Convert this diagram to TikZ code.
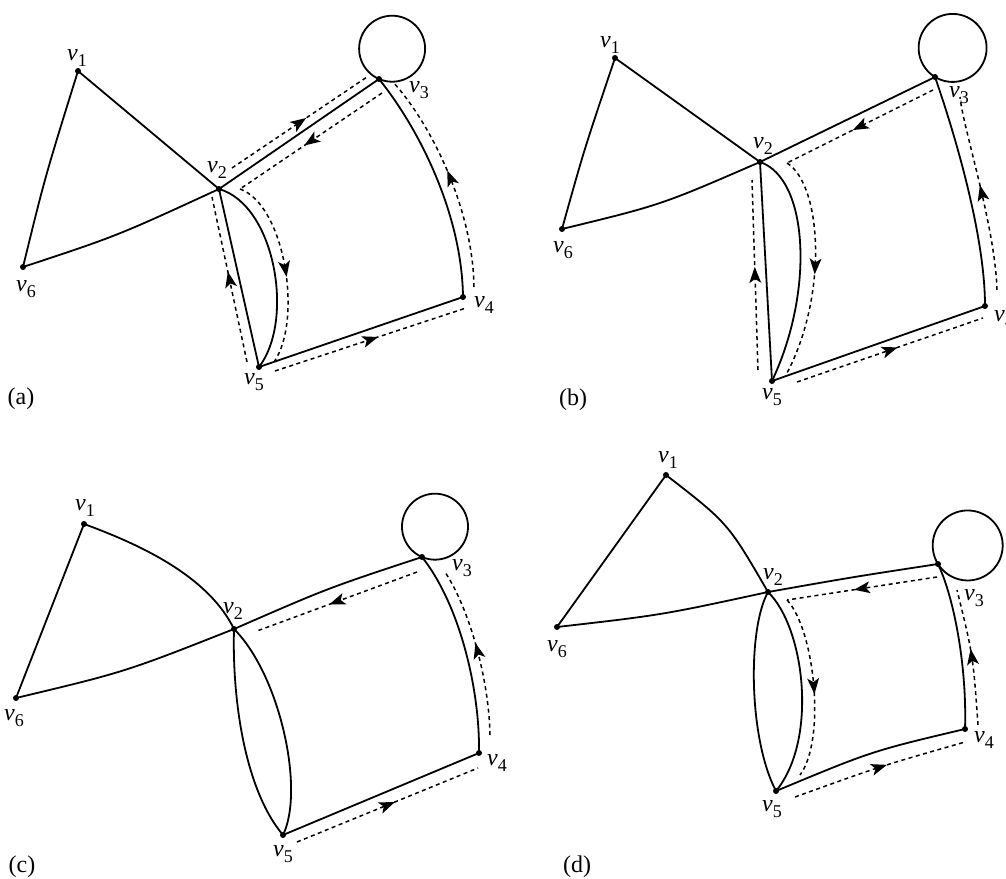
\documentclass[tikz,border=0pt]{standalone}
\usepackage{fontspec}
\setmainfont{Liberation Serif}
\usetikzlibrary{decorations.markings,arrows.meta}
\newcommand{\vlab}[1]{\textit{v}\kern0.3pt\raisebox{-0.5ex}{\fontsize{18}{18}\selectfont #1}}
\begin{document}
\begin{tikzpicture}[x=1pt,y=-1pt,
  vert/.style={circle,fill,inner sep=0pt,minimum size=6pt},
  edge/.style={line width=1.8pt},
  walk/.style={line width=1.5pt,dash pattern=on 4pt off 3.5pt},
  midarrow/.style={postaction={decorate},decoration={markings,mark=at position 0.5 with {\fill[solid] (-8pt,-6pt) -- (8pt,0pt) -- (-8pt,6pt) -- (-4pt,0pt) -- cycle;}}},
  lab/.style={font=\fontsize{24}{28}\selectfont,inner sep=0pt}
]
\useasboundingbox (0,0) rectangle (1006,878);

% ---------------- panel (a)
\node[vert] (a1) at (78,71) {};
\node[vert] (a2) at (219,189) {};
\node[vert] (a3) at (379,79) {};
\node[vert] (a4) at (463,297) {};
\node[vert] (a5) at (259,367) {};
\node[vert] (a6) at (23,267) {};
\draw[edge] (a3.center) arc[start angle=113.4,delta angle=360,radius=33];
\draw[edge] (a1.center) .. controls (45,177) .. (a6.center);
\draw[edge] (a1.center) -- (a2.center);
\draw[edge] (a6.center) .. controls (117,236) .. (a2.center);
\draw[edge] (a2.center) -- (a3.center);
\draw[edge] (a3.center) .. controls (420,130) and (462,215) .. (a4.center);
\draw[edge] (a4.center) -- (a5.center);
\draw[edge] (a2.center) -- (a5.center);
\draw[edge] (a2.center) .. controls (275,205) and (295,320) .. (a5.center);
\coordinate (wa1) at (232,168); \coordinate (wa2) at (367,77);
\coordinate (wa3) at (382,93);  \coordinate (wa4) at (240,189);
\coordinate (wa5) at (274,362);
\coordinate (wa6) at (247,362); \coordinate (wa7) at (212,197);
\coordinate (wa8) at (275,371); \coordinate (wa9) at (466,308);
\coordinate (wa10) at (474,287); \coordinate (wa11) at (393,82);
\draw[walk,midarrow] (wa1) -- (wa2);
\draw[walk,midarrow] (wa3) -- (wa4);
\draw[walk,midarrow] (wa4) .. controls (285,205) and (303,320) .. (wa5);
\draw[walk,midarrow] (wa6) -- (wa7);
\draw[walk,midarrow] (wa8) -- (wa9);
\draw[walk,midarrow] (wa10) .. controls (473,210) and (432,125) .. (wa11);
\node[lab] (la1) at (77,58) {\vlab{1}};
\node[lab] (la2) at (217,170) {\vlab{2}};
\node[lab] (la3) at (419,90) {\vlab{3}};
\node[lab] (la4) at (484,305) {\vlab{4}};
\node[lab] (la5) at (254,382) {\vlab{5}};
\node[lab] (la6) at (26,289) {\vlab{6}};
\node[lab] (ta) at (21,399) {(a)};

% ---------------- panel (b)
\node[vert] (b1) at (615,58) {};
\node[vert] (b2) at (760,162) {};
\node[vert] (b3) at (935,77) {};
\node[vert] (b4) at (985,306) {};
\node[vert] (b5) at (772,381) {};
\node[vert] (b6) at (562,229) {};
\draw[edge] (b3.center) arc[start angle=121.2,delta angle=360,radius=34];
\draw[edge] (b1.center) .. controls (584,150) .. (b6.center);
\draw[edge] (b1.center) -- (b2.center);
\draw[edge] (b6.center) .. controls (661,205) .. (b2.center);
\draw[edge] (b2.center) -- (b3.center);
\draw[edge] (b3.center) .. controls (950,120) and (985,230) .. (b4.center);
\draw[edge] (b4.center) -- (b5.center);
\draw[edge] (b2.center) -- (b5.center);
\draw[edge] (b2.center) .. controls (808,178) and (815,290) .. (b5.center);
\coordinate (wb1) at (933,90);  \coordinate (wb2) at (787,163);
\coordinate (wb3) at (787,373);
\coordinate (wb4) at (758,370); \coordinate (wb5) at (752,180);
\coordinate (wb6) at (797,382); \coordinate (wb7) at (983,318);
\coordinate (wb8) at (997,290); \coordinate (wb9) at (960,97);
\draw[walk,midarrow] (wb1) -- (wb2);
\draw[walk,midarrow] (wb2) .. controls (822,185) and (828,295) .. (wb3);
\draw[walk,midarrow] (wb4) -- (wb5);
\draw[walk,midarrow] (wb6) -- (wb7);
\draw[walk,midarrow] (wb8) .. controls (995,225) and (963,128) .. (wb9);
\node[lab] (lb1) at (610,45) {\vlab{1}};
\node[lab] (lb2) at (763,146) {\vlab{2}};
\node[lab] (lb3) at (959,95) {\vlab{3}};
\node[lab,anchor=west] (lb4) at (994,319) {\vlab{4}};
\node[lab] (lb5) at (772,397) {\vlab{5}};
\node[lab] (lb6) at (563,250) {\vlab{6}};
\node[lab] (tb) at (573,400) {(b)};

% ---------------- panel (c)
\node[vert] (c1) at (84,524) {};
\node[vert] (c2) at (234,629) {};
\node[vert] (c3) at (422,557) {};
\node[vert] (c4) at (479,753) {};
\node[vert] (c5) at (283,835) {};
\node[vert] (c6) at (16,698) {};
\draw[edge] (c3.center) arc[start angle=113.2,delta angle=360,radius=33];
\draw[edge] (c1.center) -- (c6.center);
\draw[edge] (c1.center) .. controls (150,548) and (210,580) .. (c2.center);
\draw[edge] (c6.center) .. controls (125,672) .. (c2.center);
\draw[edge] (c2.center) .. controls (328,588) .. (c3.center);
\draw[edge] (c3.center) .. controls (460,605) and (480,690) .. (c4.center);
\draw[edge] (c4.center) -- (c5.center);
\draw[edge] (c2.center) .. controls (232,700) and (245,790) .. (c5.center);
\draw[edge] (c2.center) .. controls (280,675) and (305,790) .. (c5.center);
\coordinate (wc1) at (417,572); \coordinate (wc2) at (257,631);
\coordinate (wc3) at (297,842); \coordinate (wc4) at (478,768);
\coordinate (wc5) at (490,735); \coordinate (wc6) at (445,572);
\draw[walk,midarrow] (wc1) -- (wc2);
\draw[walk,midarrow] (wc3) -- (wc4);
\draw[walk,midarrow] (wc5) .. controls (489,680) and (470,610) .. (wc6);
\node[lab] (lc1) at (85,508) {\vlab{1}};
\node[lab] (lc2) at (233,611) {\vlab{2}};
\node[lab] (lc3) at (462,568) {\vlab{3}};
\node[lab] (lc4) at (497,763) {\vlab{4}};
\node[lab] (lc5) at (283,854) {\vlab{5}};
\node[lab] (lc6) at (14,718) {\vlab{6}};
\node[lab] (tc) at (22,867) {(c)};

% ---------------- panel (d)
\node[vert] (d1) at (666,475) {};
\node[vert] (d2) at (768,592) {};
\node[vert] (d3) at (938,564) {};
\node[vert] (d4) at (965,729) {};
\node[vert] (d5) at (776,791) {};
\node[vert] (d6) at (557,627) {};
\draw[edge] (d3.center) arc[start angle=148,delta angle=360,radius=35];
\draw[edge] (d1.center) -- (d6.center);
\draw[edge] (d1.center) .. controls (728,523) .. (d2.center);
\draw[edge] (d6.center) .. controls (662,615) .. (d2.center);
\draw[edge] (d2.center) .. controls (853,577) .. (d3.center);
\draw[edge] (d3.center) .. controls (955,600) and (967,670) .. (d4.center);
\draw[edge] (d4.center) .. controls (872,751) .. (d5.center);
\draw[edge] (d2.center) .. controls (747,630) and (749,740) .. (d5.center);
\draw[edge] (d2.center) .. controls (805,628) and (818,740) .. (d5.center);
\coordinate (wd1) at (937,577); \coordinate (wd2) at (787,600);
\coordinate (wd3) at (800,775);
\coordinate (wd4) at (795,797); \coordinate (wd5) at (965,742);
\coordinate (wd6) at (978,725); \coordinate (wd7) at (957,590);
\draw[walk,midarrow] (wd1) -- (wd2);
\draw[walk,midarrow] (wd2) .. controls (815,630) and (826,740) .. (wd3);
\draw[walk,midarrow] (wd4) .. controls (881,766) .. (wd5);
\draw[walk,midarrow] (wd6) .. controls (973,655) .. (wd7);
\node[lab] (ld1) at (668,460) {\vlab{1}};
\node[lab] (ld2) at (773,577) {\vlab{2}};
\node[lab] (ld3) at (974,598) {\vlab{3}};
\node[lab] (ld4) at (984,740) {\vlab{4}};
\node[lab] (ld5) at (772,809) {\vlab{5}};
\node[lab] (ld6) at (557,649) {\vlab{6}};
\node[lab] (td) at (577,867) {(d)};
\end{tikzpicture}
\end{document}
